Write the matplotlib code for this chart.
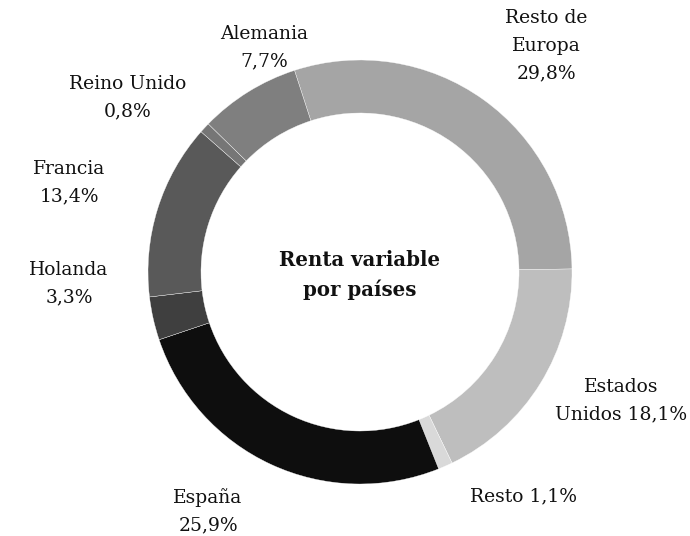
import matplotlib
matplotlib.use("Agg")
import matplotlib.pyplot as plt

labels = ["Resto de\nEuropa\n29,8%", "Estados\nUnidos 18,1%", "Resto 1,1%", "España\n25,9%",
          "Holanda\n3,3%", "Francia\n13,4%", "Reino Unido\n0,8%", "Alemania\n7,7%"]
values = [29.8, 18.1, 1.1, 25.9, 3.3, 13.4, 0.8, 7.7]
colors = ["#a5a5a5", "#bebebe", "#d9d9d9", "#0e0e0e", "#3f3f3f", "#595959", "#767676", "#7f7f7f"]
# label anchor positions in pixel space (x, y from top)
label_pos = [(546, 46), (621, 401), (524, 496), (208, 511), (69, 284), (69, 183), (128, 98), (264, 48)]

W, H = 690, 536
fig = plt.figure(figsize=(W / 100, H / 100), dpi=100)
ax = fig.add_axes([0, 0, 1, 1])
ax.pie(values, colors=colors, startangle=108, counterclock=False,
       radius=212, center=(360, H - 272), frame=True,
       wedgeprops=dict(width=53, edgecolor="white", linewidth=0.25))
ax.set_xlim(0, W)
ax.set_ylim(0, H)
ax.set_aspect("equal")
ax.axis("off")

font = "DejaVu Serif"
for lab, (x, y) in zip(labels, label_pos):
    ax.text(x, H - y, lab, ha="center", va="center", multialignment="center",
            fontsize=13.5, family=font, color="#111111", linespacing=1.68)

ax.text(360, H - 275, "Renta variable\npor países", ha="center", va="center",
        multialignment="center", fontsize=14.2, fontweight="bold", family=font,
        color="#111111", linespacing=1.55)

fig.savefig("out.png", dpi=100, facecolor="white")
